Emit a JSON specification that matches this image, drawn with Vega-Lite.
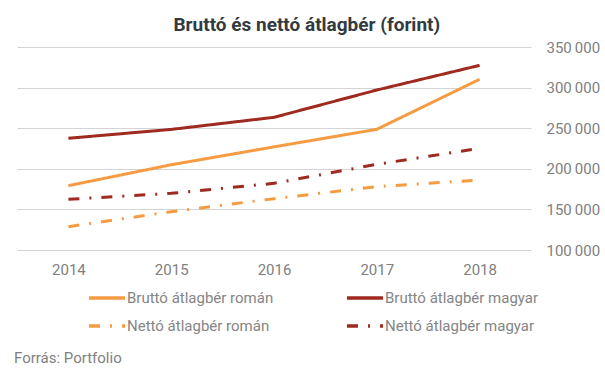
{
  "$schema": "https://vega.github.io/schema/vega-lite/v6.json",
  "background": "white",
  "padding": {"left": 14, "top": 16, "right": 5, "bottom": 5},
  "title": {"text": "Bruttó és nettó átlagbér (forint)", "font": "Roboto", "fontSize": 19, "fontWeight": "bold", "color": "#333a40", "anchor": "middle", "offset": 5},
  "config": {"view": {"stroke": null}, "font": "Roboto"},
  "vconcat": [
    {
      "width": 514,
      "height": 203,
      "title": {"text": "Forrás: Portfolio", "orient": "bottom", "anchor": "start", "fontSize": 15, "fontWeight": "normal", "color": "#7f7f7f", "offset": 74, "dx": -3},
      "data": {"values": [
        {"year": "2014", "series": "Bruttó átlagbér román", "value": 179200},
        {"year": "2015", "series": "Bruttó átlagbér román", "value": 205000},
        {"year": "2016", "series": "Bruttó átlagbér román", "value": 227000},
        {"year": "2017", "series": "Bruttó átlagbér román", "value": 248600},
        {"year": "2018", "series": "Bruttó átlagbér román", "value": 310200},
        {"year": "2014", "series": "Bruttó átlagbér magyar", "value": 237600},
        {"year": "2015", "series": "Bruttó átlagbér magyar", "value": 248500},
        {"year": "2016", "series": "Bruttó átlagbér magyar", "value": 263400},
        {"year": "2017", "series": "Bruttó átlagbér magyar", "value": 297000},
        {"year": "2018", "series": "Bruttó átlagbér magyar", "value": 327400},
        {"year": "2014", "series": "Nettó átlagbér román", "value": 128700},
        {"year": "2015", "series": "Nettó átlagbér román", "value": 147200},
        {"year": "2016", "series": "Nettó átlagbér román", "value": 163200},
        {"year": "2017", "series": "Nettó átlagbér román", "value": 178000},
        {"year": "2018", "series": "Nettó átlagbér román", "value": 186200},
        {"year": "2014", "series": "Nettó átlagbér magyar", "value": 162400},
        {"year": "2015", "series": "Nettó átlagbér magyar", "value": 169800},
        {"year": "2016", "series": "Nettó átlagbér magyar", "value": 182100},
        {"year": "2017", "series": "Nettó átlagbér magyar", "value": 205500},
        {"year": "2018", "series": "Nettó átlagbér magyar", "value": 225200}
      ]},
      "mark": {"type": "line", "strokeWidth": 3},
      "encoding": {
        "x": {"field": "year", "type": "ordinal", "scale": {"type": "point", "padding": 0.5},
          "axis": {"title": null, "labelAngle": 0, "ticks": false, "domain": false, "grid": false, "labelFontSize": 15, "labelColor": "#808080", "labelPadding": 12}},
        "y": {"field": "value", "type": "quantitative", "scale": {"domain": [100000, 350000], "nice": false, "zero": false},
          "axis": {"orient": "right", "title": null, "values": [100000, 150000, 200000, 250000, 300000, 350000], "ticks": false, "domain": false, "gridColor": "#d4d4d4", "gridWidth": 1, "labelFontSize": 15, "labelColor": "#808080", "labelPadding": 15, "labelExpr": "replace(format(datum.value, ','), ',', '\u2009')"}},
        "color": {"field": "series", "type": "nominal",
          "scale": {"domain": ["Bruttó átlagbér román", "Bruttó átlagbér magyar", "Nettó átlagbér román", "Nettó átlagbér magyar"], "range": ["#F59B42", "#9E2A20", "#F59B42", "#9E2A20"]},
          "legend": {"title": null, "orient": "none", "legendX": 70, "legendY": 231, "columns": 2, "direction": "horizontal", "symbolType": "stroke", "symbolSize": 1296, "symbolStrokeWidth": 3.5, "labelFontSize": 15, "labelColor": "#858585", "labelOffset": 0, "columnPadding": 66, "rowPadding": -11}},
        "strokeDash": {"field": "series", "type": "nominal",
          "scale": {"domain": ["Bruttó átlagbér román", "Bruttó átlagbér magyar", "Nettó átlagbér román", "Nettó átlagbér magyar"], "range": [[1, 0], [1, 0], [11, 10, 2, 10], [11, 10, 2, 10]]},
          "legend": null}
      }
    }
  ]
}
